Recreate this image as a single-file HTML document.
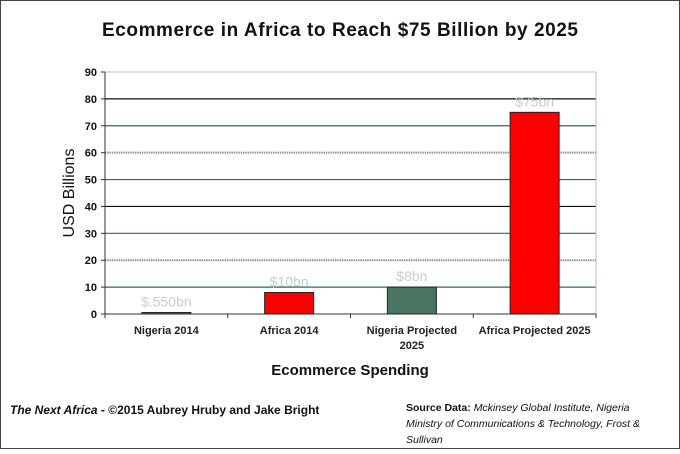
<!DOCTYPE html>
<html><head><meta charset="utf-8"><style>
body{margin:0;background:#fff;}
svg text{font-family:"Liberation Sans",sans-serif;}
</style></head><body>
<svg id="c" width="680" height="449">
<rect x="0.5" y="0.5" width="679" height="448" fill="#fff" stroke="#444"/>
<text x="340" y="36" text-anchor="middle" font-size="19" font-weight="bold" fill="#111" textLength="476">Ecommerce in Africa to Reach $75 Billion by 2025</text>
<text transform="translate(74,193) rotate(-90)" text-anchor="middle" font-size="16" fill="#111">USD Billions</text>
<text x="350" y="375" text-anchor="middle" font-size="15" font-weight="bold" fill="#111">Ecommerce Spending</text>
<text x="10" y="414" font-size="12" fill="#111"><tspan font-weight="bold" font-style="italic">The Next Africa</tspan><tspan font-weight="bold"> - ©2015 Aubrey Hruby and Jake Bright</tspan></text>
<text x="406" y="411" font-size="10.5" fill="#111"><tspan font-weight="bold">Source Data: </tspan><tspan font-style="italic">Mckinsey Global Institute, Nigeria</tspan></text>
<text x="406" y="427" font-size="10.5" font-style="italic" fill="#111">Ministry of Communications &amp; Technology, Frost &amp;</text>
<text x="406" y="443" font-size="10.5" font-style="italic" fill="#111">Sullivan</text>
<g id="plot"></g>
</svg>
<script>
const categories=["Nigeria 2014","Africa 2014","Nigeria Projected|2025","Africa Projected 2025"];
const values=[0.55,8,10,75];
const valueLabels=["$.550bn","$10bn","$8bn","$75bn"];
const barColors=["#4a7562","#ff0000","#4a7562","#ff0000"];
const yTicks=[0,10,20,30,40,50,60,70,80,90];
const gridColors=["","#2e6b55","#a09080","#2e6b55","#111","#2e6b55","#a09080","#2e6b55","#111","#ccc"];
const X0=105,X1=596,Y0=314,Y1=72,YMAX=90;
const ns="http://www.w3.org/2000/svg";
const g=document.getElementById('plot');
const y=v=>Y0-(v/YMAX)*(Y0-Y1);
const cw=(X1-X0)/categories.length;
const xc=i=>X0+cw*(i+0.5);
function mk(t,a){const e=document.createElementNS(ns,t);for(const k in a)e.setAttribute(k,a[k]);g.appendChild(e);return e;}
yTicks.forEach((t,i)=>{
  if(i>0){const dotted=gridColors[i]=="#a09080";
  const l=mk('line',{x1:X0,x2:X1,y1:y(t),y2:y(t),stroke:gridColors[i],'stroke-width':dotted?2:1.2});
  if(dotted)l.setAttribute('stroke-dasharray','1.5 0.8');
  
  }
  const tk=mk('line',{x1:X0-4,x2:X0,y1:y(t),y2:y(t),stroke:'#333'});
  
  
  const tx=mk('text',{x:X0-8,y:y(t)+4,'text-anchor':'end','font-size':11,'font-weight':'bold',fill:'#111'});
  tx.textContent=t;
  
  
});
const rb=mk('line',{x1:X1,x2:X1,y1:Y1,y2:Y0,stroke:'#bbb'});


const ya=mk('line',{x1:X0,x2:X0,y1:Y1,y2:Y0+4,stroke:'#333'});


const xa=mk('line',{x1:X0,x2:X1,y1:Y0,y2:Y0,stroke:'#333'});


for(let i=0;i<=categories.length;i++){
  const t=mk('line',{x1:X0+cw*i,x2:X0+cw*i,y1:Y0,y2:Y0+4,stroke:'#333'});
  
  
}
values.forEach((v,i)=>{
  const bw=49;
  const r=mk('rect',{x:xc(i)-bw/2,y:y(v),width:bw,height:Y0-y(v),fill:barColors[i],stroke:'#222','stroke-width':1});
  
  
  const lb=mk('text',{x:xc(i),y:y(v)-6,'text-anchor':'middle','font-size':14,fill:'#ccc'});
  lb.textContent=valueLabels[i];
  
  
  categories[i].split('|').forEach((s,j)=>{
    const c=mk('text',{x:xc(i),y:Y0+20+j*15,'text-anchor':'middle','font-size':11,'font-weight':'bold',fill:'#222'});
    c.textContent=s;
    
    
  });
});
</script>
</body></html>
